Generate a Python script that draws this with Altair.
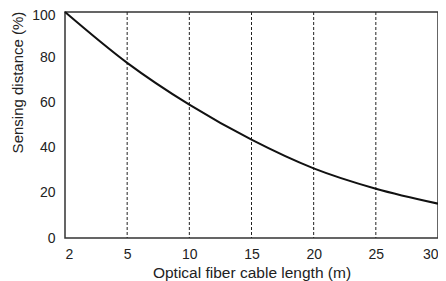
import altair as alt
import pandas as pd

length_m = [2, 5, 10, 15, 20, 25, 30]
distance_pct = [100, 77.5, 59, 43.5, 30.8, 21.8, 15.2]
x_ticks = [2, 5, 10, 15, 20, 25, 30]
grid_ticks = [5, 10, 15, 20, 25]
y_ticks = [0, 20, 40, 60, 80, 100]

df = pd.DataFrame({"length": length_m, "distance": distance_pct})
grid_df = pd.DataFrame({"g": grid_ticks})

W, H = 373, 226
FONT = "Liberation Sans"
TXT = "#222222"

xscale = alt.Scale(domain=[2, 5, 30], range=[0, W / 6, W], nice=False, zero=False)
yscale = alt.Scale(domain=[0, 100], nice=False)

line = alt.Chart(df).mark_line(color="#111111", strokeWidth=2, interpolate="monotone").encode(
    x=alt.X("length:Q", scale=xscale,
            axis=alt.Axis(values=x_ticks, title="Optical fiber cable length (m)",
                          ticks=False, tickSize=0, domain=False, grid=False,
                          labelPadding=9, labelFontSize=14, titleFontSize=15.5,
                          labelFont=FONT, titleFont=FONT, labelColor=TXT,
                          titleColor=TXT, titleFontWeight="normal",
                          titleBaseline="alphabetic", titleY=39,
                          labelFlush=True, labelFlushOffset=0)),
    y=alt.Y("distance:Q", scale=yscale,
            axis=alt.Axis(values=y_ticks, title="Sensing distance (%)",
                          ticks=False, tickSize=0, domain=False, grid=False,
                          labelPadding=10, labelFontSize=14, titleFontSize=15,
                          labelFont=FONT, titleFont=FONT, labelColor=TXT,
                          titleColor=TXT, titleFontWeight="normal",
                          titleBaseline="alphabetic", titleX=-43, titleY=70,
                          labelOffset={"condition": {"test": "datum.value == 100", "value": 3},
                                       "value": 0},
                          labelFlush=False)),
)

grid = alt.Chart(grid_df).mark_rule(color="#222222", strokeWidth=1, strokeDash=[3, 2]).encode(
    x=alt.X("g:Q", scale=xscale),
)

chart = alt.layer(grid, line).properties(
    width=W, height=H,
    autosize=alt.AutoSizeParams(type="none"),
    padding={"left": 57, "top": 4, "right": 0, "bottom": 43},
).configure_view(stroke="#333333", strokeWidth=1.5)

chart.save("out.html", embed_options={"renderer": "svg", "actions": False})
